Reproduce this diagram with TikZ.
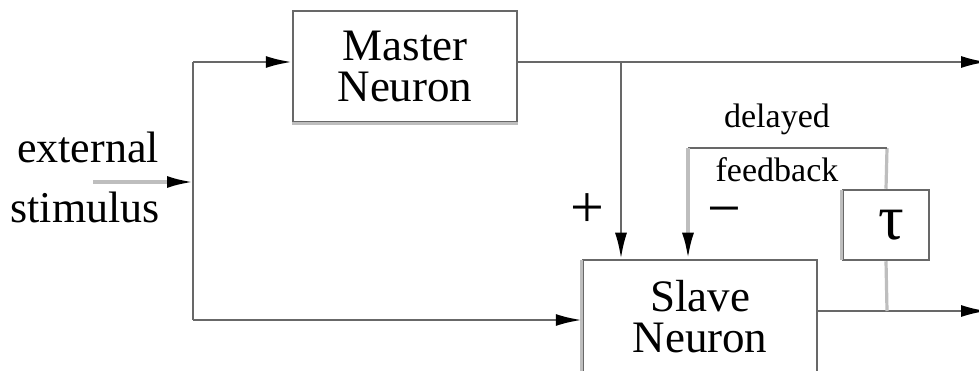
\documentclass[tikz,border=0pt]{standalone}
\usepackage{fontspec}
\setmainfont{Liberation Serif}
\usetikzlibrary{arrows.meta}
\definecolor{wirecol}{HTML}{686868}
\definecolor{palecol}{HTML}{BEBEBE}

\begin{document}
\begin{tikzpicture}[x=1pt,y=-1pt,
  wire/.style={draw=wirecol,line width=2.5pt},
  pale/.style={draw=palecol,line width=3.2pt},
  tip/.style={-{Latex[length=26pt,width=12pt,color=black]}},
  block/.style={draw=wirecol,line width=2.5pt,inner sep=0pt,align=center,
    font=\fontsize{45}{41}\selectfont},
  caption/.style={inner sep=0pt,anchor=base,font=\fontsize{44}{44}\selectfont},
  small/.style={inner sep=0pt,anchor=base,font=\fontsize{34}{34}\selectfont},
  sign/.style={inner sep=0pt,font=\fontsize{60}{60}\selectfont}]
\useasboundingbox (0,0) rectangle (979,371);
\clip (0,0) rectangle (979,371);
\fill[white] (0,0) rectangle (979,371);

% blocks
\node[block,minimum width=224pt,minimum height=111pt] (master) at (405,66.5) {Master\\Neuron};
\node[block,minimum width=234pt,minimum height=114pt] (slave) at (700,317) {Slave\\Neuron};
\node[block,minimum width=86pt,minimum height=70pt,font=\fontsize{64}{64}\selectfont] (tau) at (886,225) {\hspace*{10pt}τ};

% pale edges of the blocks
\draw[pale] (master.south west) -- (master.south east);
\draw[pale] ([yshift=-1pt]slave.north west) -- (slave.south west);
\draw[pale] ([yshift=-1pt]tau.north west) -- ([yshift=1pt]tau.south west);

% texts
\node[caption] (ext) at (88,163) {external};
\node[caption] (stim) at (85,223) {stimulus};
\node[small] (dly) at (777,128) {delayed};
\node[small] (fbk) at (777,182) {feedback};
\node[sign] (plus) at (587,211) {+};
\node[sign] (minus) at (724,218) {−};

% junction points
\coordinate (src) at (93,182);
\coordinate (split) at (193,182);
\coordinate (top) at (193,62);
\coordinate (bot) at (193,320);
\coordinate (tap) at (621,62);
\coordinate (out1) at (987,62);
\coordinate (tapS) at (887,311);
\coordinate (out2) at (987,311);
\coordinate (fbR) at (887,148);
\coordinate (fbL) at (688,148);

% input stimulus
\draw[pale,tip] (src) -- (split);
\draw[wire,tip] (top) -- (master.west |- top);
\draw[wire] (top) -- (bot);
\draw[wire,tip] (bot) -- (slave.west |- bot);

% master output and excitatory branch
\draw[wire,tip] (master.east |- tap) -- (out1);
\draw[wire,tip] (tap) -- (tap |- slave.north);

% slave output and delayed feedback loop
\draw[wire,tip] (slave.east |- tapS) -- (out2);
\draw[pale] (tapS) -- (tau.south);
\draw[pale] (tau.north) -- (fbR);
\draw[wire] (fbR) -- (fbL);
\draw[pale,tip] (fbL) -- (fbL |- slave.north);
\end{tikzpicture}
\end{document}
